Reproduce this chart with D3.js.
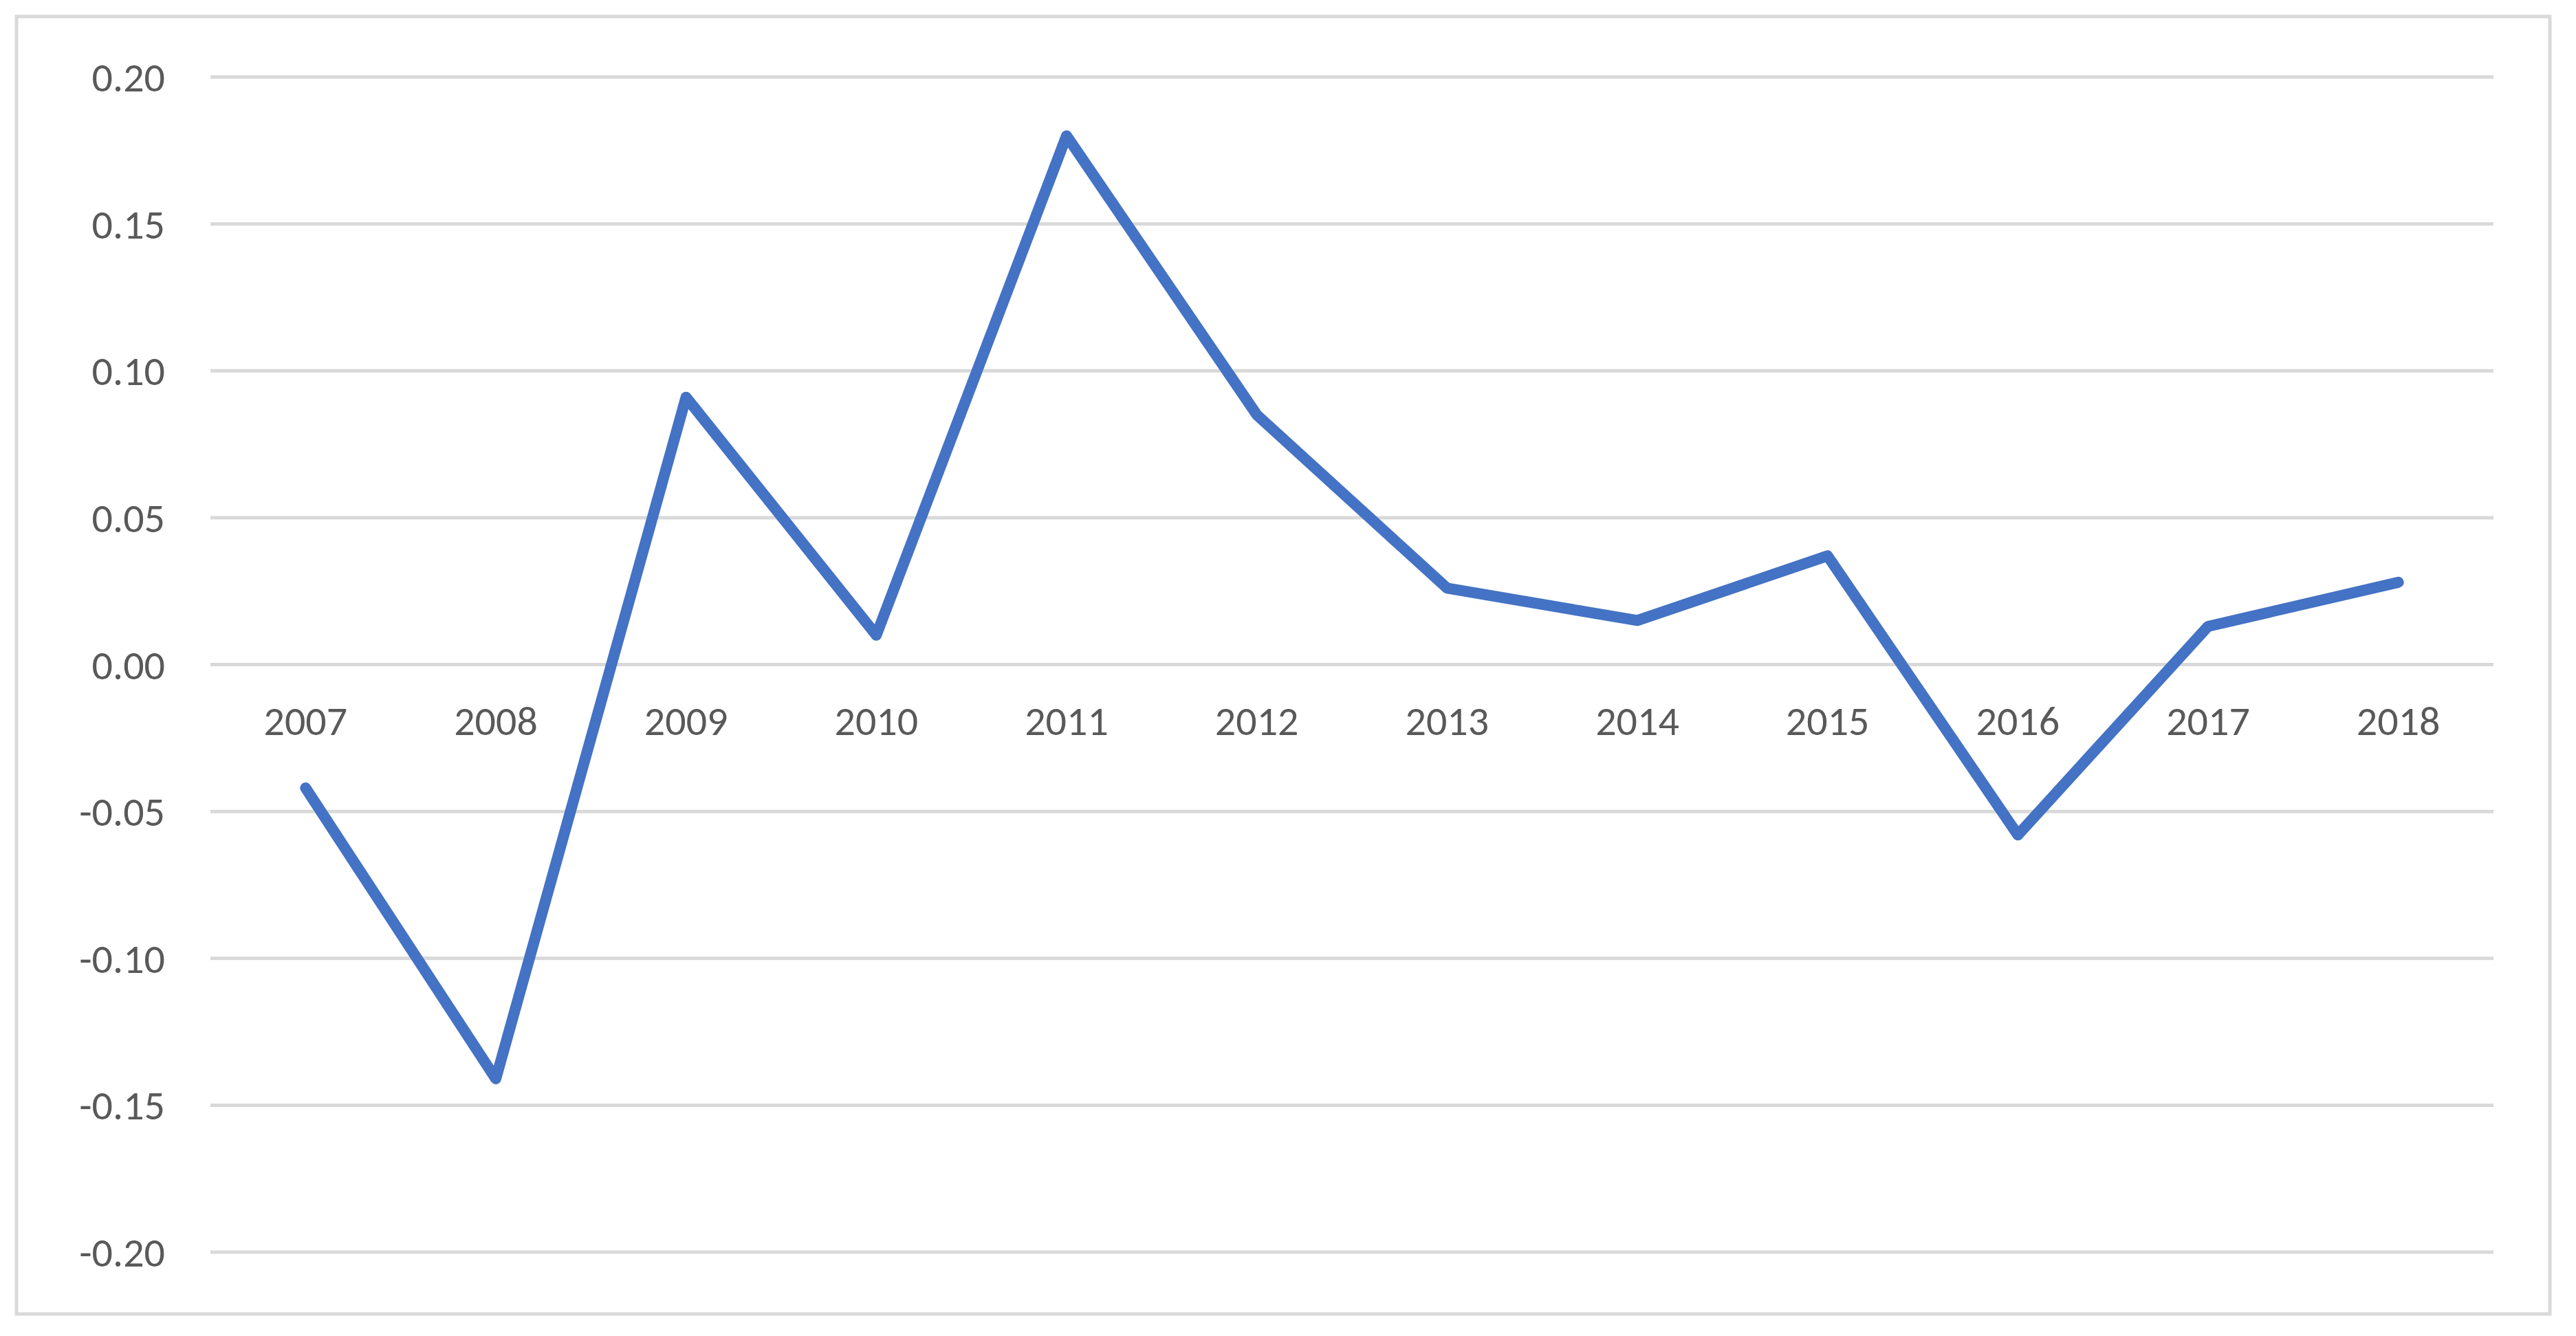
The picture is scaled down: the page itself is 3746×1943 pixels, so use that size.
<!DOCTYPE html>
<html><head><meta charset="utf-8">
<script src="https://cdn.jsdelivr.net/npm/d3@7"></script>
<style>html,body{margin:0;padding:0;background:#fff;}</style>
</head><body>
<svg id="c" width="3746" height="1943"></svg>
<script>
const categories = ["2007","2008","2009","2010","2011","2012","2013","2014","2015","2016","2017","2018"];
const values = [-0.042,-0.141,0.091,0.010,0.180,0.085,0.026,0.015,0.037,-0.058,0.013,0.028];
const yTicks = [-0.20,-0.15,-0.10,-0.05,0.00,0.05,0.10,0.15,0.20];

const svg = d3.select("#c");
svg.append("rect").attr("x",24).attr("y",24).attr("width",3684).attr("height",1887)
  .attr("fill","#fff").attr("stroke","#d9d9d9").attr("stroke-width",5);
const L=306,R=3626,T=112,B=1821;
const x = d3.scaleBand().domain(categories).range([L,R]);
const y = d3.scaleLinear().domain([-0.2,0.2]).range([B,T]);
const font = "Calibri, Carlito, 'Liberation Sans', 'Open Sans', sans-serif";

svg.append("g").selectAll("line").data(yTicks).join("line")
  .attr("x1",L).attr("x2",R).attr("y1",d=>y(d)).attr("y2",d=>y(d))
  .attr("stroke","#d9d9d9").attr("stroke-width",5);
svg.append("g").selectAll("text").data(yTicks).join("text")
  .attr("x",240).attr("y",d=>y(d)).attr("dy","0.35em").attr("text-anchor","end")
  .attr("font-family",font).attr("font-size",60).attr("fill","#595959")
  .text(d=>d3.format(".2f")(d).replace("−","-"));
svg.append("g").selectAll("text").data(categories).join("text")
  .attr("x",d=>x(d)+x.bandwidth()/2).attr("y",y(0)+102).attr("text-anchor","middle")
  .attr("font-family",font).attr("font-size",60).attr("fill","#595959").text(d=>d);
const line = d3.line().x((d,i)=>x(categories[i])+x.bandwidth()/2).y(d=>y(d));
svg.append("path").datum(values).attr("d",line).attr("fill","none")
  .attr("stroke","#4472C4").attr("stroke-width",16).attr("stroke-linejoin","round").attr("stroke-linecap","round");
</script>
</body></html>
